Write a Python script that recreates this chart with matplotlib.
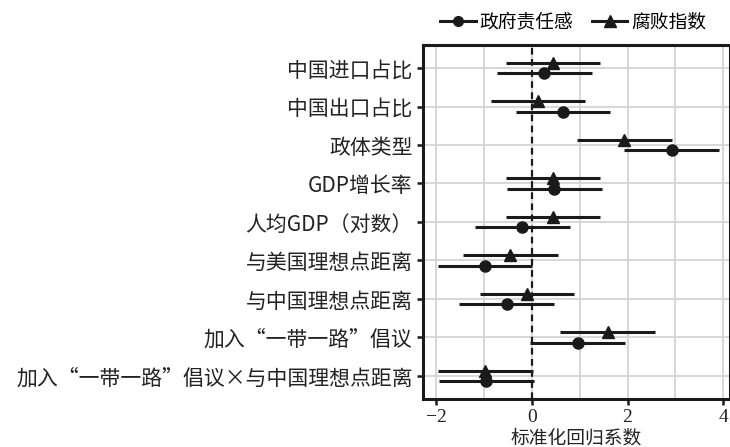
import matplotlib

matplotlib.use("Agg")
import matplotlib.pyplot as plt
from matplotlib.lines import Line2D
from matplotlib.ticker import MultipleLocator

plt.rcParams["font.family"] = ["Liberation Serif", "Noto Sans CJK SC", "DejaVu Sans"]

# variables, top to bottom
labels = [
    "中国进口占比",
    "中国出口占比",
    "政体类型",
    "GDP增长率",
    "人均GDP（对数）",
    "与美国理想点距离",
    "与中国理想点距离",
    "加入“一带一路”倡议",
    "加入“一带一路”倡议×与中国理想点距离",
]

# 政府责任感 (circle)
resp_est = [0.26, 0.65, 2.92, 0.47, -0.20, -0.97, -0.52, 0.97, -0.95]
resp_lo = [-0.72, -0.33, 1.93, -0.51, -1.18, -1.95, -1.51, -0.03, -1.93]
resp_hi = [1.25, 1.63, 3.91, 1.47, 0.79, 0.00, 0.46, 1.94, 0.04]

# 腐败指数 (triangle)
corr_est = [0.44, 0.14, 1.93, 0.44, 0.44, -0.45, -0.10, 1.59, -0.97]
corr_lo = [-0.54, -0.86, 0.95, -0.54, -0.54, -1.43, -1.09, 0.60, -1.95]
corr_hi = [1.43, 1.11, 2.92, 1.43, 1.43, 0.54, 0.88, 2.57, 0.02]

ink = "#1a1a1a"
grid_c = "#d4d4d4"
dodge = 0.14

fig = plt.figure(figsize=(7.3, 4.47), dpi=100)
ax = fig.add_axes([0.5795, 0.1074, 0.4205, 0.792])

rows = list(range(1, len(labels) + 1))
y_resp = [r + dodge for r in rows]
y_corr = [r - dodge for r in rows]

ax.axvline(0, color=ink, linestyle=(0, (3, 2)), linewidth=1.6, zorder=2)

ax.hlines(y_corr, corr_lo, corr_hi, color=ink, linewidth=2.2, zorder=3)
ax.plot(corr_est, y_corr, linestyle="none", marker="^", markersize=9, color=ink, zorder=4)
ax.hlines(y_resp, resp_lo, resp_hi, color=ink, linewidth=2.2, zorder=3)
ax.plot(resp_est, y_resp, linestyle="none", marker="o", markersize=8, color=ink, zorder=4)

ax.set_xlim(-2.27, 4.14)
ax.set_ylim(9.6, 0.4)
ax.set_yticks(rows)
ax.set_yticklabels(labels, fontsize=15, family=["Noto Sans CJK SC", "DejaVu Sans"])
ax.set_xticks([-2, 0, 2, 4])
ax.set_xticklabels(["\u22122", "0", "2", "4"], fontsize=14)
ax.xaxis.set_minor_locator(MultipleLocator(1))

ax.grid(True, which="both", color=grid_c, linewidth=1.3, zorder=0)
ax.set_axisbelow(True)
ax.tick_params(axis="both", which="major", length=4, width=1.8, color=ink, labelcolor="#222222")
ax.tick_params(axis="x", which="minor", length=0)

for side in ["left", "bottom", "top", "right"]:
    ax.spines[side].set_linewidth(2.2)
    ax.spines[side].set_color(ink)

ax.set_xlabel("标准化回归系数", fontsize=13.5, labelpad=2, color="#222222")

handles = [
    Line2D([], [], color=ink, linewidth=2.2, marker="o", markersize=7),
    Line2D([], [], color=ink, linewidth=2.2, marker="^", markersize=8),
]
fig.legend(
    handles,
    ["政府责任感", "腐败指数"],
    loc="center",
    bbox_to_anchor=(0.785, 0.95),
    ncol=2,
    frameon=False,
    fontsize=13.5,
    handlelength=1.9,
    handletextpad=0.2,
    columnspacing=1.0,
)

fig.savefig("out.png", dpi=100)
